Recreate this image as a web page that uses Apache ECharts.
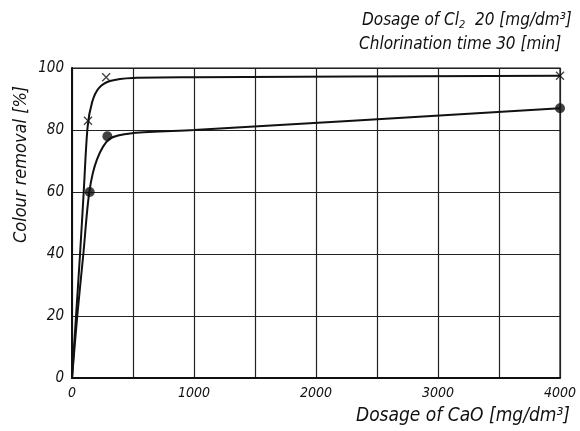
<!DOCTYPE html>
<html><head><meta charset="utf-8">
<script src="https://cdn.jsdelivr.net/npm/echarts@6/dist/echarts.min.js"></script>
<style>html,body{margin:0;padding:0;background:#fff}#c{width:580px;height:431px}</style>
</head><body><div id="c"></div>
<script>
// Measured points (markers)
const crossPts = [[131, 83], [280, 97], [4000, 97.5]];
const dotPts = [[145, 60], [290, 78], [4000, 87]];
// Traced curve shapes
const crossCurve = [[0, 0], [33, 20], [66, 40], [96, 60], [128, 81], [165, 89], [220, 93.5], [311, 95.8], [500, 96.8], [1000, 97], [4000, 97.5]];
const dotCurve = [[0, 0], [43, 20], [93, 40], [142, 60], [205, 70.5], [311, 77.2], [500, 79], [1000, 80], [4000, 87]];
const xTicks = [0, 1000, 2000, 3000, 4000];
const yTicks = [0, 20, 40, 60, 80, 100];

const FONT = '"Liberation Sans Narrow", "DejaVu Sans Condensed", sans-serif';
const chart = echarts.init(document.getElementById('c'));
chart.setOption({
  animation: false,
  backgroundColor: '#fff',
  grid: { left: 72, right: 20, top: 68, bottom: 53, show: true, borderColor: '#111', borderWidth: 1.2 },
  xAxis: {
    type: 'value', min: 0, max: 4000, interval: 500,
    axisLine: { lineStyle: { color: '#111', width: 2 } },
    axisTick: { show: false },
    splitLine: { lineStyle: { color: '#222', width: 1.2 } },
    axisLabel: {
      fontFamily: FONT, fontStyle: 'italic', fontSize: 14, color: '#111', margin: 8,
      formatter: v => xTicks.includes(v) ? String(v) : ''
    }
  },
  yAxis: {
    type: 'value', min: 0, max: 100, interval: 20,
    axisLine: { show: true, lineStyle: { color: '#111', width: 2 } },
    axisTick: { show: false },
    splitLine: { lineStyle: { color: '#222', width: 1.2 } },
    axisLabel: {
      fontFamily: FONT, fontStyle: 'italic', fontSize: 15, color: '#111', margin: 8,
      formatter: v => yTicks.includes(v) ? String(v) : ''
    }
  },
  graphic: [
    { type: 'text', left: 362, top: 12, style: { text: 'Dosage of Cl{s|2}  20 [mg/dm³]', font: 'italic 17px ' + FONT, fill: '#111',
      rich: { s: { fontSize: 11, fontStyle: 'italic', fontFamily: FONT, padding: [10, 0, 0, 0] } } } },
    { type: 'text', left: 359, top: 36, style: { text: 'Chlorination time 30 [min]', font: 'italic 17px ' + FONT, fill: '#111' } },
    { type: 'text', left: 356, top: 407, style: { text: 'Dosage of CaO [mg/dm³]', font: 'italic 19px ' + FONT, fill: '#111' } },
    { type: 'text', x: 12, y: 243, rotation: Math.PI / 2, style: { text: 'Colour removal [%]', font: 'italic 18px ' + FONT, fill: '#111' } }
  ],
  series: [
    { type: 'line', data: crossCurve, smooth: 0.3, showSymbol: false, lineStyle: { color: '#111', width: 2 } },
    { type: 'line', data: dotCurve, smooth: 0.3, showSymbol: false, lineStyle: { color: '#111', width: 2 } },
    { type: 'scatter', data: crossPts, symbol: 'path://M0,0L10,10M10,0L0,10', symbolSize: 8, itemStyle: { color: 'none', borderColor: '#111', borderWidth: 1.3 } },
    { type: 'scatter', data: dotPts, symbol: 'circle', symbolSize: 10, itemStyle: { color: '#111' } }
  ]
});
</script></body></html>
